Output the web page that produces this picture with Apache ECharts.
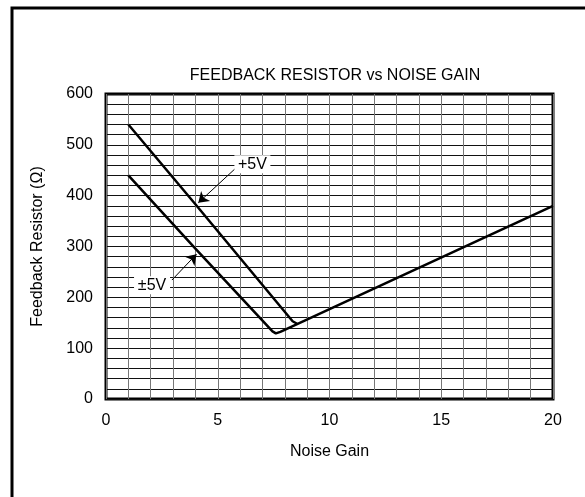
<!DOCTYPE html>
<html>
<head>
<meta charset="utf-8">
<script src="https://cdn.jsdelivr.net/npm/echarts@6/dist/echarts.min.js"></script>
<style>
  html, body { margin: 0; padding: 0; background: #fff; }
  #main { width: 585px; height: 497px; }
</style>
</head>
<body>
<div id="main"></div>
<script>
// curves: [noise gain, feedback resistor]
const plus5V = [[1, 540], [4, 383], [8.35, 153], [8.55, 148]];
const pm5V = [[1, 440], [4, 296], [7.45, 133], [7.6, 129], [7.8, 132], [20, 380]];

// annotation arrows: [from, to]
const plus5VArrow = [[5.9, 458], [4.13, 386]];
const pm5VArrow = [[2.95, 234], [4.05, 285]];
// annotation text positions
const plus5VText = [6.55, 462];
const pm5VText = [2.06, 224];

const xTicks = [0, 5, 10, 15, 20];
const yTicks = [0, 100, 200, 300, 400, 500, 600];

var fontFamily = "Liberation Sans, Arial, sans-serif";
var myChart = echarts.init(document.getElementById("main"));

function arrow(pts) {
  return {
    silent: true,
    symbol: ["none", "arrow"],
    symbolSize: 10,
    lineStyle: { color: "#000", width: 1, type: "solid" },
    label: { show: false },
    data: [[{ coord: pts[0] }, { coord: pts[1] }]],
  };
}

function tag(pos, text) {
  return {
    silent: true,
    symbol: "rect",
    symbolSize: [36, 18],
    itemStyle: { color: "#fff" },
    label: {
      show: true,
      position: "inside",
      formatter: text,
      color: "#000",
      fontSize: 16,
      fontFamily: fontFamily,
    },
    data: [{ coord: pos }],
  };
}

var option = {
  animation: false,
  backgroundColor: "#fff",
  textStyle: { fontFamily: fontFamily },
  graphic: [
    {
      type: "rect",
      shape: { x: 12, y: 8, width: 700, height: 700 },
      style: { fill: "none", stroke: "#000", lineWidth: 3 },
    },
  ],
  title: {
    text: "FEEDBACK RESISTOR vs NOISE GAIN",
    left: 330,
    top: 63,
    textAlign: "center",
    textStyle: { fontSize: 16, fontWeight: "normal", color: "#000", fontFamily: fontFamily },
  },
  grid: {
    left: 106,
    top: 94,
    width: 447,
    height: 305,
    show: true,
    borderColor: "#000",
    borderWidth: 3,
    backgroundColor: "transparent",
  },
  xAxis: {
    type: "value",
    min: xTicks[0],
    max: xTicks[xTicks.length - 1],
    interval: 5,
    name: "Noise Gain",
    nameLocation: "middle",
    nameGap: 45,
    nameTextStyle: { fontSize: 16, color: "#000" },
    axisLine: { show: false },
    axisTick: { show: false },
    axisLabel: { fontSize: 16, color: "#000", margin: 14 },
    splitLine: { show: true, lineStyle: { color: "#777", width: 1 } },
    minorTick: { show: false, splitNumber: 5 },
    minorSplitLine: { show: true, lineStyle: { color: "#777", width: 1 } },
  },
  yAxis: {
    type: "value",
    min: yTicks[0],
    max: yTicks[yTicks.length - 1],
    interval: 100,
    name: "Feedback Resistor (\u03A9)",
    nameLocation: "middle",
    nameGap: 60,
    nameTextStyle: { fontSize: 16, color: "#000" },
    axisLine: { show: false },
    axisTick: { show: false },
    axisLabel: { fontSize: 16, color: "#000", margin: 13 },
    splitLine: { show: true, lineStyle: { color: "#111", width: 1 } },
    minorTick: { show: false, splitNumber: 5 },
    minorSplitLine: { show: true, lineStyle: { color: "#111", width: 1 } },
  },
  series: [
    {
      name: "+5V",
      type: "line",
      data: plus5V,
      symbol: "none",
      lineStyle: { color: "#000", width: 2.5 },
      markLine: arrow(plus5VArrow),
      markPoint: tag(plus5VText, "+5V"),
      z: 5,
    },
    {
      name: "\u00B15V",
      type: "line",
      data: pm5V,
      symbol: "none",
      lineStyle: { color: "#000", width: 2.5 },
      markLine: arrow(pm5VArrow),
      markPoint: tag(pm5VText, "\u00B15V"),
      z: 5,
    },
  ],
};

option && myChart.setOption(option);
</script>
</body>
</html>
